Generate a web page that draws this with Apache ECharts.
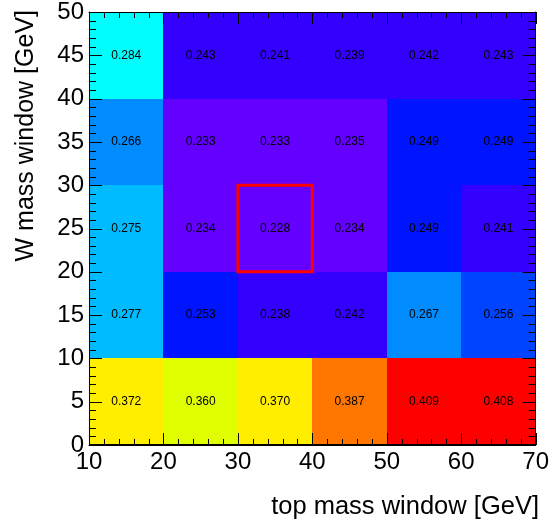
<!DOCTYPE html>
<html>
<head>
<meta charset="utf-8">
<script src="https://cdn.jsdelivr.net/npm/echarts@6/dist/echarts.min.js"></script>
<style>
html,body{margin:0;padding:0;background:#fff;}
#chart{width:552px;height:525px;}
</style>
</head>
<body>
<div id="chart"></div>
<script>
// bin edges
var xEdges = [10, 20, 30, 40, 50, 60, 70];
var yEdges = [0, 10, 20, 30, 40, 50];
// values per row (row index = y bin from bottom), columns = x bins
var row0to10  = [0.372, 0.360, 0.370, 0.387, 0.409, 0.408];
var row10to20 = [0.277, 0.253, 0.238, 0.242, 0.267, 0.256];
var row20to30 = [0.275, 0.234, 0.228, 0.234, 0.249, 0.241];
var row30to40 = [0.266, 0.233, 0.233, 0.235, 0.249, 0.249];
var row40to50 = [0.284, 0.243, 0.241, 0.239, 0.242, 0.243];
var rows = [row0to10, row10to20, row20to30, row30to40, row40to50];
// highlighted bin [xLow, xHigh, yLow, yHigh]
var highlightBin = [30, 40, 20, 30];
// major tick values
var xTickValues = [10, 20, 30, 40, 50, 60, 70];
var yTickValues = [0, 5, 10, 15, 20, 25, 30, 35, 40, 45, 50];
var xTitle = 'top mass window [GeV]';
var yTitle = 'W mass window [GeV]';

var data = [];
var zmin = Infinity, zmax = -Infinity;
rows.forEach(function (row, j) {
  row.forEach(function (v, i) {
    data.push([xEdges[i], xEdges[i + 1], yEdges[j], yEdges[j + 1], v]);
    zmin = Math.min(zmin, v); zmax = Math.max(zmax, v);
  });
});

// tick marks list: [value, isY, isMajor]; minor ticks subdivide each major step in 5
var minorDiv = 5;
var tickData = [];
function addTicks(vals, isY) {
  vals.forEach(function (v, k) {
    tickData.push([v, isY, 1]);
    if (k < vals.length - 1) {
      var step = (vals[k + 1] - v) / minorDiv;
      for (var m = 1; m < minorDiv; m++) tickData.push([v + m * step, isY, 0]);
    }
  });
}
addTicks(xTickValues, 0);
addTicks(yTickValues, 1);

// ROOT "pretty palette" (50 colours, violet -> red), 20 contour levels
function hsvRed(h) {
  h = ((h % 360) + 360) % 360;
  function f(x) {
    x = ((x % 360) + 360) % 360;
    if (x < 60) return x / 60;
    if (x < 180) return 1;
    if (x < 240) return (240 - x) / 60;
    return 0;
  }
  var r = Math.round(255 * f(h + 120)), g = Math.round(255 * f(h)), b = Math.round(255 * f(h - 120));
  return 'rgb(' + r + ',' + g + ',' + b + ')';
}
var palette = [];
for (var i = 0; i < 49; i++) palette.push(hsvRed(280 - (i + 1) * 5.6));
palette.push('rgb(255,0,0)');
var ndivz = 20;
var pieces = [];
var dz = zmax - zmin;
for (var c = 0; c < ndivz; c++) {
  var idx = Math.min(palette.length - 1, Math.floor((c + 0.99) * palette.length / ndivz));
  var p = { gte: zmin + (c - 0.01) * dz / ndivz, color: palette[idx] };
  if (c < ndivz - 1) p.lt = zmin + (c + 1 - 0.01) * dz / ndivz; else p.lte = zmax + 1;
  if (c === 0) p.gte = zmin - 1;
  pieces.push(p);
}

var font = '"Liberation Sans", Arial, Helvetica, sans-serif';
function mkX(pos, showLabel) {
  return {
    type: 'value', position: pos, min: 10, max: 70, interval: 10, z: 10,
    axisLine: { show: true, onZero: false, lineStyle: { color: '#000', width: 1 } },
    axisTick: { show: false },
    splitLine: { show: false },
    axisLabel: { show: showLabel, color: '#000', fontSize: 24, fontFamily: font, margin: 5, showMinLabel: true, showMaxLabel: true }
  };
}
function mkY(pos, showLabel) {
  return {
    type: 'value', position: pos, min: 0, max: 50, interval: 5, z: 10,
    axisLine: { show: true, onZero: false, lineStyle: { color: '#000', width: 1 } },
    axisTick: { show: false },
    splitLine: { show: false },
    axisLabel: { show: showLabel, color: '#000', fontSize: 24, fontFamily: font, margin: 5, showMinLabel: true, showMaxLabel: true }
  };
}

var chart = echarts.init(document.getElementById('chart'), null, { renderer: 'canvas' });
chart.setOption({
  animation: false,
  backgroundColor: '#fff',
  grid: { left: 89, right: 15, top: 11, bottom: 80, containLabel: false },
  xAxis: [mkX('bottom', true), mkX('top', false)],
  yAxis: [mkY('left', true), mkY('right', false)],
  visualMap: { type: 'piecewise', show: false, dimension: 4, seriesIndex: 0, pieces: pieces },
  graphic: [
    { type: 'text', x: 539, y: 507,
      style: { text: xTitle, font: '25.5px ' + font, fill: '#000', align: 'right', verticalAlign: 'middle' } },
    { type: 'text', x: 26, y: 10, rotation: Math.PI / 2,
      style: { text: yTitle, font: '25px ' + font, fill: '#000', align: 'right', verticalAlign: 'middle' } }
  ],
  series: [
    {
      type: 'custom', xAxisIndex: 0, yAxisIndex: 0, z: 1,
      encode: { x: [0, 1], y: [2, 3] },
      data: data,
      renderItem: function (params, api) {
        var p0 = api.coord([api.value(0), api.value(3)]);
        var p1 = api.coord([api.value(1), api.value(2)]);
        var x0 = Math.round(p0[0]), y0 = Math.round(p0[1]), x1 = Math.round(p1[0]), y1 = Math.round(p1[1]);
        return {
          type: 'group',
          children: [
            { type: 'rect', shape: { x: x0, y: y0, width: x1 - x0, height: y1 - y0 },
              style: { fill: api.visual('color') } },
            { type: 'text', z2: 5, style: { x: (p0[0] + p1[0]) / 2, y: (p0[1] + p1[1]) / 2,
              text: api.value(4).toFixed(3), align: 'center', verticalAlign: 'middle',
              font: '12px ' + font, fill: '#000' } }
          ]
        };
      }
    },
    {
      type: 'custom', xAxisIndex: 0, yAxisIndex: 0, z: 3,
      encode: { x: [0, 1], y: [2, 3] },
      data: [highlightBin],
      renderItem: function (params, api) {
        var p0 = api.coord([api.value(0), api.value(3)]);
        var p1 = api.coord([api.value(1), api.value(2)]);
        return { type: 'rect', shape: { x: p0[0], y: p0[1], width: p1[0] - p0[0], height: p1[1] - p0[1] },
          style: { fill: 'none', stroke: '#ff0000', lineWidth: 3 } };
      }
    },
    {
      // inward tick marks on all four sides plus frame, placed through the axis scales
      type: 'custom', xAxisIndex: 0, yAxisIndex: 0, z: 5, silent: true,
      encode: { x: 0 },
      data: tickData,
      renderItem: function (params, api) {
        var v = api.value(0), isY = api.value(1), major = api.value(2);
        var children = [];
        var st = { stroke: '#000', lineWidth: 1 };
        if (!isY) {
          var len = major ? 12 : 6;
          var b = api.coord([v, 0]), t = api.coord([v, 50]);
          var x = Math.round(b[0]) + 0.5;
          children.push({ type: 'line', shape: { x1: x, y1: b[1], x2: x, y2: b[1] - len }, style: st });
          children.push({ type: 'line', shape: { x1: x, y1: t[1], x2: x, y2: t[1] + len }, style: st });
        } else {
          var lenY = major ? 13 : 7;
          var l = api.coord([10, v]), r = api.coord([70, v]);
          var y = Math.round(l[1]) + 0.5;
          children.push({ type: 'line', shape: { x1: l[0], y1: y, x2: l[0] + lenY, y2: y }, style: st });
          children.push({ type: 'line', shape: { x1: r[0], y1: y, x2: r[0] - lenY, y2: y }, style: st });
        }
        if (params.dataIndex === 0) {
          var tl = api.coord([10, 50]), br = api.coord([70, 0]);
          children.push({ type: 'rect', shape: { x: Math.round(tl[0]) + 0.5, y: Math.round(tl[1]) + 0.5,
            width: Math.round(br[0]) - Math.round(tl[0]) - 1, height: Math.round(br[1]) - Math.round(tl[1]) - 1 },
            style: { fill: 'none', stroke: '#000', lineWidth: 1 } });
        }
        return { type: 'group', children: children };
      }
    }
  ]
});
</script>
</body>
</html>
